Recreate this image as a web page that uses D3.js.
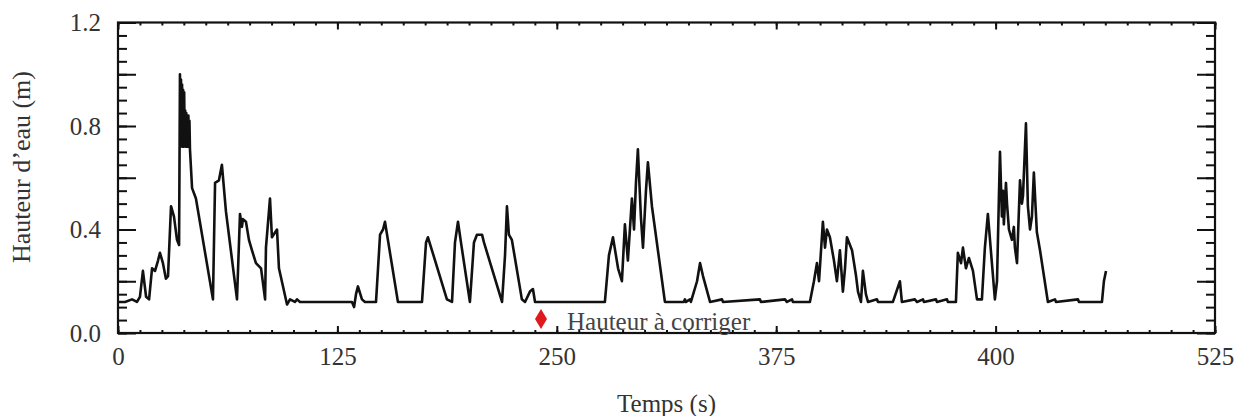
<!DOCTYPE html>
<html>
<head>
<meta charset="utf-8">
<script src="https://cdn.jsdelivr.net/npm/d3@7"></script>
<style>
  body { margin: 0; background: #fff; }
  svg text { font-family: "Liberation Serif", "Times New Roman", serif !important; }
</style>
</head>
<body>
<svg id="chart" width="1242" height="416"></svg>
<script>
// ---- data (time in axis units, water height in m) ----
const timeValues = [0,4.0,8.0,10.8,12.5,14.2,16.0,17.7,19.4,21.1,22.8,23.9,25.6,27.3,28.5,30.2,31.9,33.6,34.8,35.3,35.6,35.9,36.2,36.5,36.8,37.1,37.4,37.7,38.0,38.3,38.6,38.9,39.2,39.5,39.8,40.1,40.4,40.7,41.0,42.2,44.4,54.1,55.3,57.5,59.2,61.5,67.8,69.5,70.6,71.2,72.9,74.6,76.3,78.6,81.5,83.8,84.3,86.6,87.7,90.6,91.7,96.3,98.0,100.8,102.0,103.7,133.3,134.5,135.6,136.7,139.0,140.7,147.0,149.3,151.0,152.1,159.5,173.2,175.5,176.6,187.4,190.3,192.0,193.7,195.4,200.5,202.8,204.5,207.4,208.5,218.8,220.5,221.6,222.7,224.4,230.1,231.9,234.7,236.4,237.6,277.4,279.7,282.0,284.9,287.1,288.8,290.5,292.8,294.0,295.1,296.2,297.9,299.1,300.8,301.9,304.2,311.6,322.4,323.0,323.6,325.9,326.4,329.9,331.6,333.3,337.3,344.1,344.7,365.7,366.3,380.0,381.1,384.0,384.5,394.2,396.5,398.2,399.4,401.6,402.8,403.9,405.6,407.9,409.6,411.3,413.0,414.2,415.3,418.2,420.5,421.6,423.3,424.4,426.1,427.3,432.4,433.0,441.5,445.5,446.6,454.0,455.2,458.6,459.2,466.0,466.6,472.3,472.8,477.4,478.5,480.3,481.4,483.1,484.8,487.1,489.4,492.2,493.9,495.6,497.9,499.6,500.8,501.9,502.5,503.6,504.2,504.7,505.9,506.5,507.6,509.3,510.4,511.0,512.2,513.9,515.0,515.6,517.3,518.4,519.6,520.7,521.8,523.5,525.3,529.8,533.8,534.4,546.9,547.5,560.6,561.7,562.9];
const heightValues = [0.12,0.12,0.13,0.12,0.14,0.24,0.14,0.13,0.25,0.24,0.28,0.31,0.27,0.21,0.22,0.49,0.45,0.36,0.34,1.00,0.72,0.98,0.74,0.96,0.72,0.94,0.72,0.93,0.73,0.86,0.72,0.85,0.72,0.84,0.72,0.84,0.72,0.82,0.71,0.56,0.52,0.13,0.58,0.59,0.65,0.47,0.13,0.46,0.41,0.44,0.43,0.36,0.32,0.27,0.25,0.13,0.33,0.52,0.37,0.40,0.25,0.11,0.13,0.12,0.13,0.12,0.12,0.10,0.15,0.18,0.13,0.12,0.12,0.38,0.40,0.43,0.12,0.12,0.35,0.37,0.13,0.12,0.35,0.43,0.35,0.12,0.35,0.38,0.38,0.35,0.12,0.30,0.49,0.38,0.36,0.13,0.12,0.16,0.17,0.12,0.12,0.30,0.37,0.25,0.20,0.42,0.28,0.52,0.40,0.58,0.71,0.45,0.33,0.55,0.66,0.49,0.12,0.12,0.13,0.12,0.13,0.12,0.20,0.27,0.22,0.12,0.13,0.12,0.13,0.12,0.13,0.12,0.13,0.12,0.12,0.20,0.27,0.20,0.43,0.33,0.40,0.37,0.28,0.20,0.32,0.16,0.25,0.37,0.32,0.22,0.16,0.12,0.24,0.15,0.12,0.13,0.12,0.12,0.20,0.12,0.13,0.12,0.13,0.12,0.13,0.12,0.13,0.12,0.12,0.31,0.27,0.33,0.25,0.29,0.24,0.13,0.13,0.33,0.46,0.27,0.13,0.20,0.53,0.70,0.45,0.55,0.42,0.58,0.50,0.40,0.36,0.41,0.33,0.27,0.59,0.50,0.53,0.81,0.49,0.40,0.45,0.62,0.39,0.32,0.12,0.13,0.12,0.13,0.12,0.12,0.20,0.24];

const xTickValues = [0,125,250,375,500,625];
const xTickLabels = ["0","125","250","375","400","525"];
const yTickValues = [0.0,0.4,0.8,1.2];
const yTickLabels = ["0.0","0.4","0.8","1.2"];
const markerTime = [241.0];
const markerHeight = [0.054];
const markerLabel = ["Hauteur à corriger"];

// ---- layout ----
const svg = d3.select("#chart");
const L = 118, R = 1215, T = 22.5, B = 333;
const x = d3.scaleLinear().domain([0,625]).range([L,R]);
const y = d3.scaleLinear().domain([0,1.2]).range([B,T]);

const fs = 25;
const serif = "'Liberation Serif', 'Times New Roman', serif";

const xMinor = d3.range(0,625.01,12.5);
const yMinor = d3.range(0,1.2001,0.05);
const g = svg.append("g");

g.append("g").attr("transform",`translate(0,${B})`)
  .call(d3.axisBottom(x).tickValues(xMinor).tickSize(-3).tickFormat(""))
  .call(a=>a.select(".domain").remove());
g.append("g").attr("transform",`translate(0,${B})`)
  .call(d3.axisBottom(x).tickValues(xTickValues).tickSize(-7).tickPadding(14)
    .tickFormat((d,i)=>xTickLabels[i]))
  .call(a=>a.select(".domain").remove());
g.append("g").attr("transform",`translate(0,${T})`)
  .call(d3.axisTop(x).tickValues(xMinor).tickSize(-3).tickFormat(""))
  .call(a=>a.select(".domain").remove());
g.append("g").attr("transform",`translate(0,${T})`)
  .call(d3.axisTop(x).tickValues(xTickValues).tickSize(-7).tickFormat(""))
  .call(a=>a.select(".domain").remove());

const yMajor = d3.range(0,1.2001,0.2);
g.append("g").attr("transform",`translate(${L},0)`)
  .call(d3.axisLeft(y).tickValues(yMinor).tickSize(-9).tickFormat(""))
  .call(a=>a.select(".domain").remove());
g.append("g").attr("transform",`translate(${L},0)`)
  .call(d3.axisLeft(y).tickValues(yMajor).tickSize(-18).tickFormat(""))
  .call(a=>a.select(".domain").remove());
g.append("g").attr("transform",`translate(${L},0)`)
  .call(d3.axisLeft(y).tickValues(yTickValues).tickSize(0).tickPadding(17)
    .tickFormat((d,i)=>yTickLabels[i]))
  .call(a=>a.select(".domain").remove());
g.append("g").attr("transform",`translate(${R},0)`)
  .call(d3.axisRight(y).tickValues(yMinor).tickSize(-9).tickFormat(""))
  .call(a=>a.select(".domain").remove());
g.append("g").attr("transform",`translate(${R},0)`)
  .call(d3.axisRight(y).tickValues(yMajor).tickSize(-18).tickFormat(""))
  .call(a=>a.select(".domain").remove());

g.selectAll("g").attr("font-family", serif);
g.selectAll(".tick line").attr("stroke","#111").attr("stroke-width",2);
g.selectAll(".tick text").style("font-family", serif)
  .attr("font-size",fs).attr("fill","#333");

svg.append("rect").attr("x",L).attr("y",T).attr("width",R-L).attr("height",B-T)
  .attr("fill","none").attr("stroke","#111").attr("stroke-width",2.2);

const data = timeValues.map((t,i)=>[t,heightValues[i]]);
svg.append("path").datum(data)
  .attr("fill","none").attr("stroke","#111").attr("stroke-width",2.6)
  .attr("stroke-linejoin","round")
  .attr("d", d3.line().x(d=>x(d[0])).y(d=>y(d[1])));

markerTime.forEach((t,i)=>{
  const cx = x(t), cy = y(markerHeight[i]);
  svg.append("path")
    .attr("d", `M${cx},${cy-10} L${cx+6},${cy} L${cx},${cy+10} L${cx-6},${cy} Z`)
    .attr("fill","#e0191e");
  svg.append("text").attr("x",cx+26).attr("y",B-3)
    .style("font-family", serif)
    .attr("font-size",fs).attr("fill","#444").text(markerLabel[i]);
});

svg.append("text").attr("x",(L+R)/2).attr("y",412).attr("text-anchor","middle")
  .style("font-family", serif)
  .attr("font-size",fs).attr("fill","#333").text("Temps (s)");
svg.append("text").attr("transform",`translate(30,${167}) rotate(-90)`)
  .style("font-family", serif)
  .attr("text-anchor","middle").attr("font-size",fs+1).attr("fill","#333")
  .text("Hauteur d\u2019eau (m)");
</script>
</body>
</html>
